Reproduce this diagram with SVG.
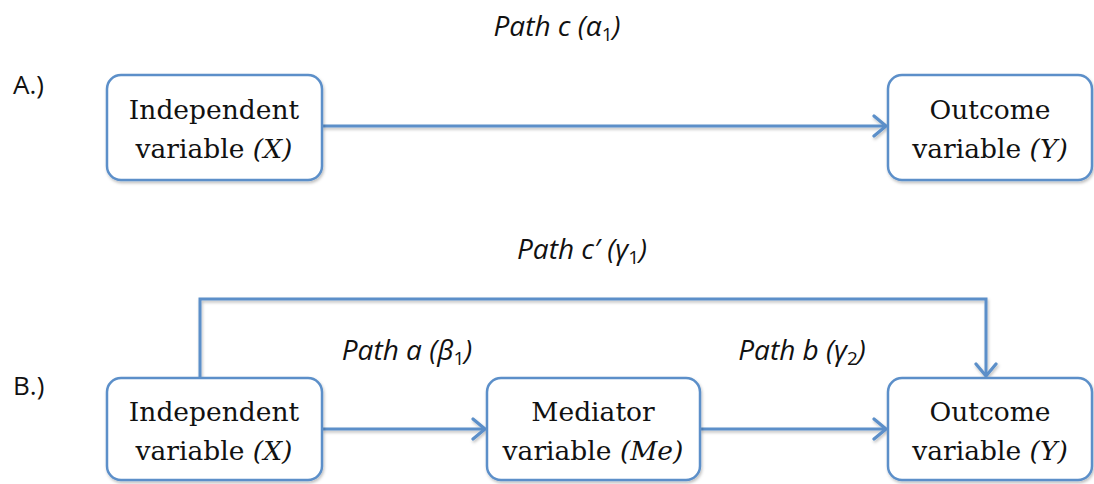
<svg xmlns="http://www.w3.org/2000/svg" width="1094" height="484" viewBox="0 0 1094 484">
<defs>
<marker id="ah" markerWidth="18" markerHeight="24" refX="14" refY="12" orient="auto" markerUnits="userSpaceOnUse" viewBox="0 0 18 24">
<path d="M2,2 L14,12 L2,22" fill="none" stroke="#5b8fc9" stroke-width="3.2" stroke-linecap="round" stroke-linejoin="round"/>
</marker>
<filter id="sh" filterUnits="userSpaceOnUse" x="0" y="0" width="1094" height="484">
<feDropShadow dx="1" dy="2" stdDeviation="1.5" flood-color="#000" flood-opacity="0.25"/>
</filter>
</defs>
<style>
.box{fill:#fff;stroke:#5b8fc9;stroke-width:2.5;filter:url(#sh)}
.bt{font-family:"DejaVu Serif","Liberation Serif",serif;font-size:26.5px;fill:#111;text-anchor:middle}
.lbl{font-family:"Open Sans","Liberation Sans",sans-serif;font-style:italic;font-size:28px;fill:#111;text-anchor:middle}
.tag{font-family:"Open Sans","Liberation Sans",sans-serif;font-size:26px;fill:#111}
.con{fill:none;stroke:#5b8fc9;stroke-width:3;filter:url(#sh)}
</style>
<rect width="1094" height="484" fill="#fff"/>
<text class="tag" x="13" y="94">A.)</text>
<text class="tag" x="13" y="395">B.)</text>
<g id="connectors">
<line class="con" x1="322" y1="126" x2="886" y2="126" marker-end="url(#ah)"/>
<line class="con" x1="322" y1="429" x2="485" y2="429" marker-end="url(#ah)"/>
<line class="con" x1="700" y1="429" x2="886" y2="429" marker-end="url(#ah)"/>
<polyline class="con" points="200,378 200,299 986,299 986,376" marker-end="url(#ah)"/>
</g>
<g id="labels">
<text class="lbl" x="557" y="36">Path c (<tspan>α</tspan><tspan font-style="normal" font-size="19" dy="5">1</tspan><tspan dy="-5">)</tspan></text>
<text class="lbl" x="582" y="259">Path c′ (<tspan>γ</tspan><tspan font-style="normal" font-size="19" dy="5">1</tspan><tspan dy="-5">)</tspan></text>
<text class="lbl" x="407" y="360">Path a (<tspan>β</tspan><tspan font-style="normal" font-size="19" dy="5">1</tspan><tspan dy="-5">)</tspan></text>
<text class="lbl" x="802" y="360">Path b (<tspan>γ</tspan><tspan font-style="normal" font-size="19" dy="5">2</tspan><tspan dy="-5">)</tspan></text>
</g>
<g id="nodeA_X">
<rect class="box" x="107" y="75" width="215" height="105" rx="14"/>
<text class="bt" x="214" y="119">Independent</text>
<text class="bt" x="214" y="158">variable <tspan font-style="italic">(X)</tspan></text>
</g>
<g id="nodeA_Y">
<rect class="box" x="888" y="75" width="204" height="105" rx="14"/>
<text class="bt" x="990" y="119">Outcome</text>
<text class="bt" x="990" y="158">variable <tspan font-style="italic">(Y)</tspan></text>
</g>
<g id="nodeB_X">
<rect class="box" x="107" y="378" width="215" height="102" rx="14"/>
<text class="bt" x="214" y="421">Independent</text>
<text class="bt" x="214" y="460">variable <tspan font-style="italic">(X)</tspan></text>
</g>
<g id="nodeB_Me">
<rect class="box" x="487" y="378" width="213" height="102" rx="14"/>
<text class="bt" x="593" y="421">Mediator</text>
<text class="bt" x="593" y="460">variable <tspan font-style="italic">(Me)</tspan></text>
</g>
<g id="nodeB_Y">
<rect class="box" x="888" y="378" width="204" height="102" rx="14"/>
<text class="bt" x="990" y="421">Outcome</text>
<text class="bt" x="990" y="460">variable <tspan font-style="italic">(Y)</tspan></text>
</g>
</svg>
